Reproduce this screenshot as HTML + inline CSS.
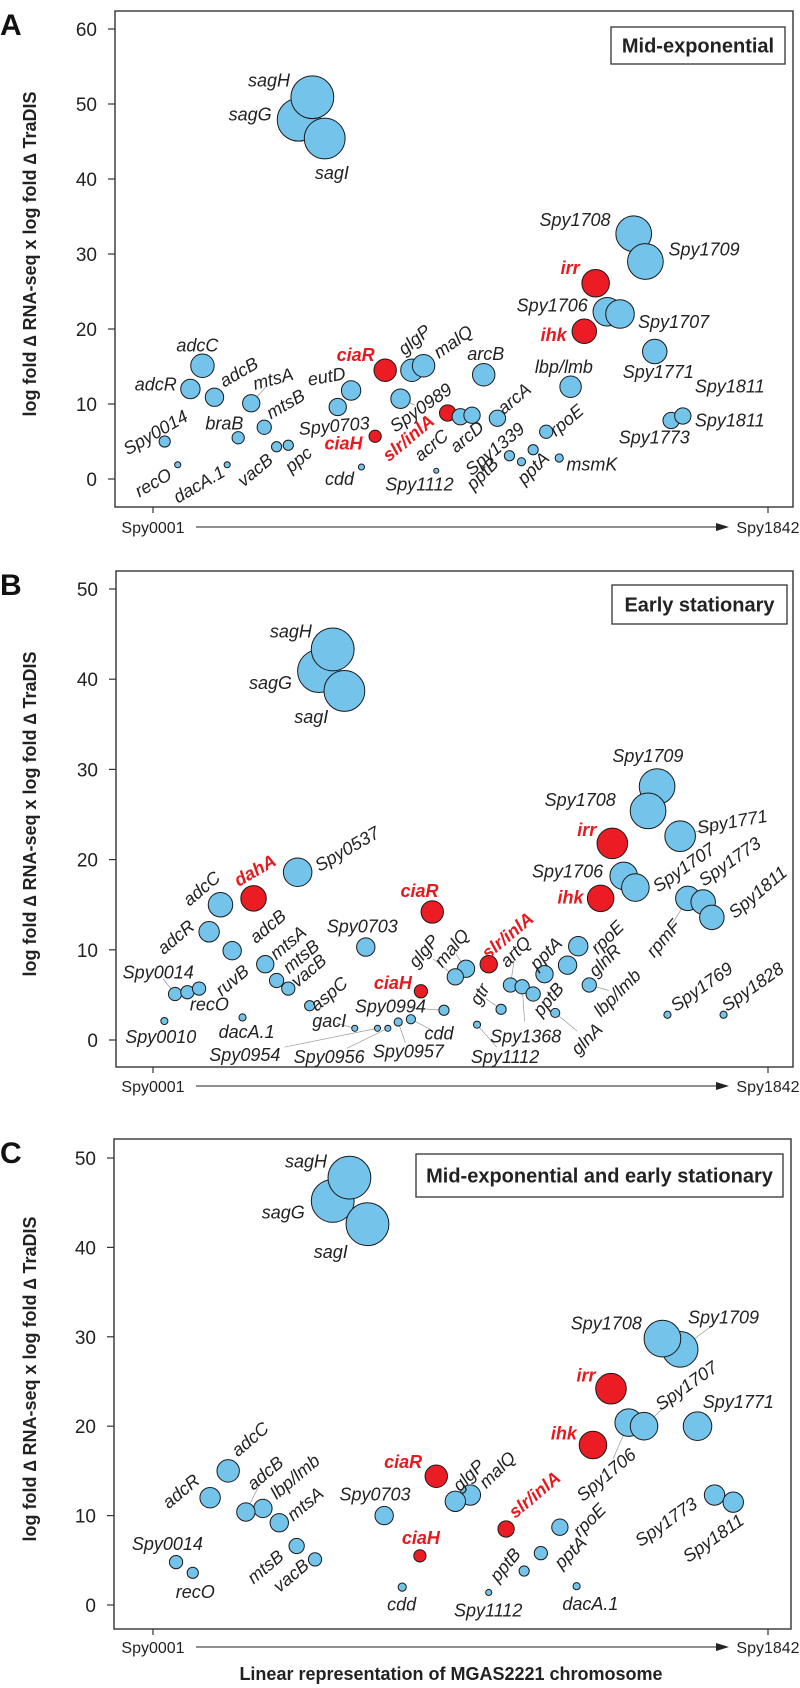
<!DOCTYPE html>
<html><head><meta charset="utf-8">
<style>
html,body{margin:0;padding:0;background:#fff;}
svg{display:block;}
.tick{font-family:"Liberation Sans Narrow","Liberation Sans",sans-serif;font-size:19px;fill:#222;}
.lab{font-family:"Liberation Sans Narrow","Liberation Sans",sans-serif;font-size:18px;font-style:italic;fill:#222;}
.labr{font-family:"Liberation Sans Narrow","Liberation Sans",sans-serif;font-size:18px;font-style:italic;font-weight:bold;fill:#e8191e;}
.ytitle{font-family:"Liberation Sans",sans-serif;font-size:18px;font-weight:bold;fill:#222;}
.leg{font-family:"Liberation Sans Narrow","Liberation Sans",sans-serif;font-size:20px;font-weight:bold;fill:#222;}
.xl{font-family:"Liberation Sans Narrow","Liberation Sans",sans-serif;font-size:16px;fill:#222;}
.letter{font-family:"Liberation Sans",sans-serif;font-size:30px;font-weight:bold;fill:#111;}
</style></head>
<body>
<svg id="chart" width="800" height="1688" viewBox="0 0 800 1688" xmlns="http://www.w3.org/2000/svg"></svg>
<script>
// ---------- Panel A data ----------
const aGenes = ["sagG","sagH","sagI","Spy1708","Spy1709","irr","Spy1706","Spy1707","ihk","Spy1771","adcC","ciaR","glgP","malQ","arcB","lbp/lmb","adcR","adcB","mtsA","Spy0989","eutD","Spy0703","slr/inlA","acrC","arcD","arcA","Spy1773","Spy1811","mtsB","rpoE","ciaH","braB","Spy0014","vacB","ppc","Spy1339","pptB","pptA","msmK","recO","dacA.1","cdd","Spy1112"];
const aPos = [437,478,515,1440,1475,1326,1361,1399,1292,1503,149,696,776,811,991,1251,113,185,295,742,594,554,883,921,956,1032,1552,1587,334,1178,666,256,36,371,406,1139,1068,1104,1217,75,223,625,849];
const aVal = [47.9,50.9,45.4,32.7,29.0,26.1,22.3,22.0,19.7,17.0,15.1,14.5,14.5,15.1,13.9,12.3,12.0,10.9,10.1,10.7,11.8,9.6,8.8,8.3,8.5,8.1,7.8,8.4,6.9,6.3,5.7,5.5,5.0,4.3,4.5,3.9,3.1,2.3,2.8,1.9,1.9,1.6,1.1];
const aMag = [42,42,40,35,35,27,28,28,24,24,23,22,22,22,22,21,19,18,17,19,19,17,16,16,16,16,16,16,14,13,12,12,11,10,10,10,10,8,8,6,6,6,5];
const aRed = ["irr","ihk","ciaR","ciaH","slr/inlA"];
const aYTicks = [0,10,20,30,40,50,60];

// ---------- Panel B data ----------
const bGenes = ["sagG","sagH","sagI","Spy1709","Spy1708","Spy1771","irr","Spy0537","Spy1706","Spy1707","dahA","adcC","ihk","rpmF","Spy1773","Spy1811","ciaR","adcR","Spy0703","rpoE","adcB","mtsA","glnR","slr/inlA","malQ","glgP","pptA","mtsB","vacB","artQ","Spy1368","pptB","lbp/lmb","ciaH","Spy0014","recO","ruvB","aspC","gtr","gacI","Spy0954","Spy0956","Spy0957","cdd","Spy0994","dacA.1","Spy0010","Spy1112","glnA","Spy1769","Spy1828"];
const bPos = [498,539,574,1510,1483,1579,1376,434,1410,1445,302,203,1341,1602,1648,1674,837,169,638,1274,238,337,1242,1006,938,906,1173,371,406,1071,1106,1139,1307,803,67,104,139,470,1043,605,673,704,735,773,872,269,35,971,1205,1541,1709];
const bVal = [40.9,43.3,38.7,28.1,25.4,22.6,21.8,18.6,18.2,16.9,15.7,15.0,15.7,15.7,15.3,13.6,14.2,12.0,10.3,10.4,9.9,8.4,8.3,8.4,7.9,7.0,7.3,6.6,5.7,6.1,5.9,5.1,6.1,5.4,5.1,5.3,5.7,3.8,3.4,1.3,1.3,1.3,2.0,2.3,3.3,2.5,2.1,1.7,3.0,2.8,2.8];
const bMag = [42,42,40,35,35,30,30,28,27,27,25,24,26,24,24,24,22,20,18,19,18,17,18,17,17,16,17,14,13,14,14,14,14,13,13,13,13,10,10,6,6,6,8,9,10,7,7,7,9,7,7];
const bRed = ["irr","ihk","ciaR","ciaH","slr/inlA","dahA"];
const bYTicks = [0,10,20,30,40,50];

// ---------- Panel C data ----------
const cGenes = ["sagG","sagH","sagI","Spy1709","Spy1708","irr","Spy1706","Spy1707","Spy1771","ihk","adcC","ciaR","malQ","glgP","Spy1773","Spy1811","adcR","lbp/lmb","adcB","Spy0703","mtsA","rpoE","slr/inlA","mtsB","vacB","Spy0014","pptA","ciaH","recO","pptB","cdd","dacA.1","Spy1112"];
const cPos = [539,589,643,1579,1526,1372,1425,1471,1631,1318,226,849,951,906,1682,1738,172,330,279,693,379,1219,1058,431,486,70,1162,800,120,1112,747,1269,1006];
const cVal = [45.2,47.8,42.6,28.6,29.8,24.2,20.4,20.0,20.0,17.9,15.0,14.4,12.3,11.6,12.3,11.5,12.0,10.8,10.4,10.0,9.2,8.7,8.5,6.6,5.1,4.8,5.8,5.5,3.6,3.8,2.0,2.1,1.4];
const cMag = [42,42,42,35,36,30,27,27,28,27,22,22,20,20,20,20,20,18,18,18,18,16,16,15,13,13,13,12,11,10,8,7,6];
const cRed = ["irr","ihk","ciaR","ciaH","slr/inlA"];
const cYTicks = [0,10,20,30,40,50];

// ---------- label placement (offsets from point, in reference zoom units) ----------
const aLabels = {"sagH":[-85,-47,0],"sagG":[-95,-15,0],"sagI":[14,97,0],"Spy1708":[-115,-39,0],"Spy1709":[115,-33,0],"irr":[-50,-43,0],"Spy1706":[-108,-17,0],"Spy1707":[105,23,0],"ihk":[-60,10,0],"Spy1771":[7,58,0],"adcC":[-10,-57,0],"adcR":[-68,-12,0],"adcB":[48,-70,-30],"mtsA":[43,-68,-15],"mtsB":[42,-65,-30],"eutD":[-48,-39,-10],"ciaR":[-58,-42,0],"glgP":[5,-85,-40],"malQ":[58,-67,-35],"arcB":[4,-58,0],"lbp/lmb":[-13,-55,0],"Spy0989":[40,25,-35],"Spy0703":[-7,53,-5],"braB":[-27,-40,0],"Spy0014":[-18,-25,-30],"ciaH":[-62,20,0],"slr/inlA":[-77,70,-40],"acrC":[-57,80,-40],"arcD":[-10,60,-40],"arcA":[33,-55,-40],"Spy1339":[-75,-2,-40],"rpoE":[40,-32,-40],"pptB":[-53,50,-45],"pptA":[23,18,-45],"msmK":[64,18,0],"recO":[-48,50,-30],"dacA.1":[-55,55,-30],"vacB":[-42,65,-40],"ppc":[20,40,-40],"cdd":[-43,33,0],"Spy1112":[-33,38,0],"Spy1773":[-33,48,0],"Spy1811":[92,12,0]};
const aExtra = [["Spy1811","Spy1811",92,-83,0]];
const bLabels = {"sagH":[-82,-50,0],"sagG":[-95,33,0],"sagI":[-65,73,0],"Spy1709":[-18,-85,0],"Spy1708":[-133,-30,0],"Spy1771":[102,-40,-10],"irr":[-50,-37,0],"Spy0537":[97,-65,-30],"Spy1706":[-110,-12,0],"Spy1707":[95,-56,-35],"rpmF":[-48,112,-50],"Spy1773":[52,-113,-35],"Spy1811":[90,-70,-40],"dahA":[3,-78,-30],"adcC":[-37,-45,-40],"ihk":[-59,-3,0],"ciaR":[-25,-58,0],"adcR":[-65,15,-40],"adcB":[70,-68,-40],"Spy0703":[-7,-58,0],"mtsA":[45,-60,-40],"mtsB":[48,-67,-40],"vacB":[40,-50,-40],"ruvB":[65,-23,-40],"Spy0014":[-33,-60,0],"recO":[43,35,0],"glgP":[-62,-72,-50],"malQ":[-28,-58,-50],"slr/inlA":[37,-80,-40],"artQ":[10,-93,-45],"pptA":[3,-58,-45],"rpoE":[57,-25,-45],"glnR":[73,-13,-45],"ciaH":[-55,-23,0],"aspC":[38,-33,-40],"Spy0994":[-105,-10,0],"gtr":[-42,-42,-60],"pptB":[30,15,-50],"lbp/lmb":[55,22,-45],"gacI":[-50,-20,0],"dacA.1":[8,40,0],"Spy0010":[-7,45,0],"cdd":[55,40,0],"Spy1368":[7,139,0],"glnA":[62,73,-45],"Spy0954":[-260,75,0],"Spy0956":[-115,80,0],"Spy0957":[20,82,0],"Spy1112":[55,90,0],"Spy1769":[67,-78,-35],"Spy1828":[57,-78,-35]};
const cLabels = {"sagH":[-85,-45,0],"sagG":[-97,32,0],"sagI":[-72,77,0],"Spy1708":[-110,-42,0],"Spy1709":[85,-89,0],"irr":[-49,-37,0],"Spy1707":[83,-112,-35],"Spy1771":[80,-67,0],"Spy1706":[-44,145,-40],"ihk":[-57,-32,0],"adcC":[43,-88,-40],"adcR":[-57,-18,-40],"adcB":[38,-108,-40],"lbp/lmb":[63,-88,-40],"mtsA":[51,-52,-40],"Spy0703":[-18,-58,0],"ciaR":[-65,-40,0],"glgP":[26,-72,-45],"malQ":[53,-70,-45],"slr/inlA":[56,-95,-40],"rpoE":[58,-20,-45],"pptA":[58,-2,-45],"pptB":[-37,-17,-50],"Spy1773":[-95,75,-35],"Spy1811":[-39,100,-35],"mtsB":[-61,58,-40],"vacB":[-47,45,-40],"Spy0014":[-17,-50,0],"recO":[5,53,0],"ciaH":[2,-50,0],"cdd":[-1,48,0],"Spy1112":[-1,50,0],"dacA.1":[27,49,0]};
const aLead = ["mtsA","Spy0989"];
const bLead = ["Spy0014","Spy0954","Spy0956","Spy0957","Spy1112","Spy1368","glnA","gacI","cdd","Spy0994","gtr","artQ","glgP","malQ","lbp/lmb","rpmF","Spy1771"];
const cLead = ["Spy1709","Spy1707","Spy1706","adcB"];

const svg = document.getElementById('chart');
const NS = 'http://www.w3.org/2000/svg';
function mk(tag, attrs, parent){ const e=document.createElementNS(NS,tag); for(const k in attrs) e.setAttribute(k,attrs[k]); (parent||svg).appendChild(e); return e; }
function xScale(g){ return 153 + (g-1)/1841*615; }

function panel(cfg){
  const g = mk('g',{});
  
  
  const y = v => cfg.y0 - v*cfg.k;
  const L = mk('text',{x:0,y:cfg.top+24,class:'letter'},g); L.textContent=cfg.id.toUpperCase();
  
  
  const fr = mk('rect',{x:cfg.left,y:cfg.top,width:cfg.right-cfg.left,height:cfg.bottom-cfg.top,fill:'none',stroke:'#333','stroke-width':1.4},g);
  
  
  cfg.ticks.forEach(t=>{
    const yy=y(t);
    const tl = mk('line',{x1:cfg.left-7,x2:cfg.left,y1:yy,y2:yy,stroke:'#333','stroke-width':1.2},g);
    
    
    const tx = mk('text',{x:cfg.left-18,y:yy+7,'text-anchor':'end',class:'tick'},g); tx.textContent=t;
    
    
  });
  const cy=(cfg.top+cfg.bottom)/2 - 5;
  const yt = mk('text',{x:30,y:cy,'text-anchor':'middle',class:'ytitle',transform:'rotate(-90 30 '+cy+') translate(0 6)'},g);
  yt.textContent='log fold \u2206 RNA-seq x log fold \u2206 TraDIS';
  
  
  [1,1842].forEach(v=>{
    const xx=xScale(v);
    const t=mk('line',{x1:xx,x2:xx,y1:cfg.bottom,y2:cfg.bottom+6,stroke:'#333','stroke-width':1.2},g);
    
    
  });
  const ly = cfg.xlab;
  const s1=mk('text',{x:xScale(1),y:ly+6,'text-anchor':'middle',class:'xl'},g); s1.textContent='Spy0001';
  
  
  const s2=mk('text',{x:xScale(1842),y:ly+6,'text-anchor':'middle',class:'xl'},g); s2.textContent='Spy1842';
  
  
  const ar=mk('line',{x1:196,x2:720,y1:ly,y2:ly,stroke:'#222','stroke-width':1},g);
  
  
  const ah=mk('path',{d:'M716 '+(ly-4)+' L729 '+ly+' L716 '+(ly+4)+' Z',fill:'#222'},g);
  
  
  const lb=mk('rect',{x:cfg.leg[0],y:cfg.leg[1],width:cfg.leg[2],height:cfg.leg[3],fill:'#fff',stroke:'#333','stroke-width':1.3},g);
  
  
  const lt=mk('text',{x:cfg.leg[0]+cfg.leg[2]/2,y:cfg.leg[1]+cfg.leg[3]/2+7,'text-anchor':'middle',class:'leg'},g); lt.textContent=cfg.legText;
  
  
  const pts={};
  cfg.genes.forEach((n,i)=>{ pts[n]=[xScale(cfg.pos[i]), y(cfg.val[i])]; });
  const lblPos = (n,o)=>[pts[n][0]+o[0]/1.96, pts[n][1]+o[1]*cfg.fy];
  cfg.lead.forEach(n=>{
    if(!cfg.labels[n]) return;
    const p=pts[n], q=lblPos(n,cfg.labels[n]);
    const ln=mk('line',{x1:p[0],y1:p[1],x2:p[0]+(q[0]-p[0])*0.7,y2:p[1]+(q[1]-p[1])*0.7,stroke:'#999','stroke-width':0.7},g);
    
    
  });
  cfg.genes.forEach((n,i)=>{
    const red=cfg.red.includes(n);
    const c=mk('circle',{cx:pts[n][0],cy:pts[n][1],r:cfg.mag[i]*0.51,fill:red?'#ec1c24':'#74c3ea',stroke:'#1a1a1a','stroke-width':1},g);
    
    
  });
  const drawLabel=(n,text,o)=>{
    const q=lblPos(n,o);
    const red=cfg.red.includes(n);
    const t=mk('text',{x:q[0],y:q[1]+6,'text-anchor':'middle',class:red?'labr':'lab',transform:'rotate('+o[2]+' '+q[0]+' '+q[1]+')'},g);
    t.textContent=text;
    
    
  };
  cfg.genes.forEach(n=>{ if(cfg.labels[n]) drawLabel(n,n,cfg.labels[n]); });
  (cfg.extra||[]).forEach(e=>drawLabel(e[0],e[1],[e[2],e[3],e[4]]));
}

panel({id:'a',top:11,bottom:507,left:115,right:793,y0:479,k:7.5,fy:0.3576,xlab:527,ticks:aYTicks,
  genes:aGenes,pos:aPos,val:aVal,mag:aMag,red:aRed,labels:aLabels,extra:aExtra,lead:aLead,
  leg:[611,27,174,37],legText:'Mid-exponential'});
panel({id:'b',top:571,bottom:1067,left:116,right:793,y0:1040,k:9.02,fy:0.3576,xlab:1086,ticks:bYTicks,
  genes:bGenes,pos:bPos,val:bVal,mag:bMag,red:bRed,labels:bLabels,lead:bLead,
  leg:[612,585,175,39],legText:'Early stationary'});
panel({id:'c',top:1139,bottom:1629,left:114,right:791,y0:1605,k:8.94,fy:0.36,xlab:1647,ticks:cYTicks,
  genes:cGenes,pos:cPos,val:cVal,mag:cMag,red:cRed,labels:cLabels,lead:cLead,
  leg:[416,1154,367,43],legText:'Mid-exponential and early stationary'});

const xt=mk('text',{x:451,y:1680,'text-anchor':'middle',class:'ytitle'});
xt.textContent='Linear representation of MGAS2221 chromosome';


</script>
</body></html>
